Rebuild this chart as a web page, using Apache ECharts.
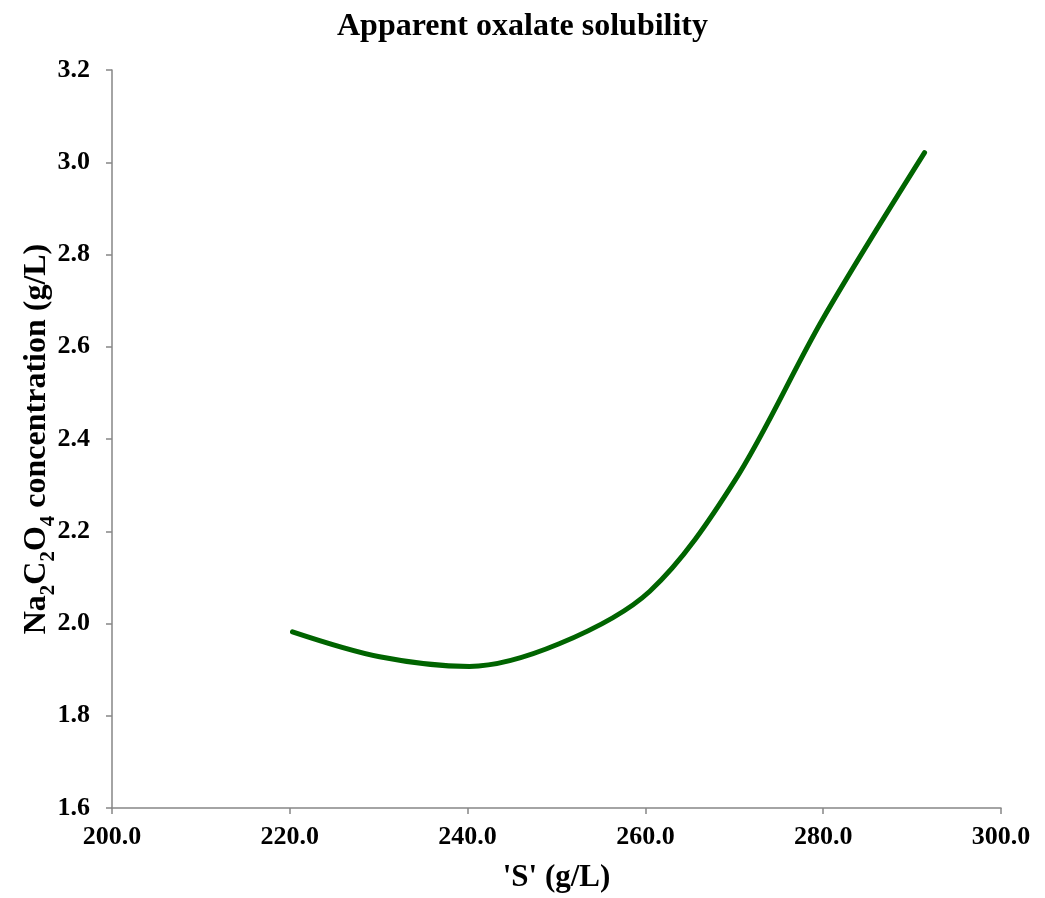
<!DOCTYPE html>
<html>
<head>
<meta charset="utf-8">
<script src="https://cdn.jsdelivr.net/npm/echarts@6/dist/echarts.min.js"></script>
<style>
  html, body { margin: 0; padding: 0; background: #fff; }
  #chart { width: 1045px; height: 898px; }
</style>
</head>
<body>
<div id="chart"></div>
<script>
// 数据：曲线点
var sValues = [220.3, 230.1, 240.2, 250.3, 260.5, 270.0, 280.0, 291.4];
var oxalateValues = [1.982, 1.928, 1.907, 1.956, 2.070, 2.308, 2.662, 3.021];

var font = '"Liberation Serif", "Times New Roman", serif';

var myChart = echarts.init(document.getElementById('chart'));

var option = {
    animation: false,
    backgroundColor: '#fff',
    title: {
        text: 'Apparent oxalate solubility',
        left: 'center',
        top: 6,
        textStyle: { fontFamily: font, fontWeight: 'bold', fontSize: 32, color: '#000' }
    },
    grid: { left: 112, right: 44, top: 70, bottom: 89 },
    xAxis: {
        type: 'value',
        min: 200, max: 300, interval: 20,
        name: "'S' (g/L)",
        nameLocation: 'middle',
        nameGap: 54,
        nameMoveOverlap: false,
        nameTextStyle: { fontFamily: font, fontWeight: 'bold', fontSize: 31, color: '#000' },
        axisLine: { lineStyle: { color: '#868686', width: 1.5 } },
        axisTick: { show: true, length: 6, inside: false, lineStyle: { color: '#868686', width: 1.5 } },
        splitLine: { show: false },
        axisLabel: {
            margin: 16,
            fontFamily: font, fontWeight: 'bold', fontSize: 26, color: '#000',
            formatter: function (v) { return v.toFixed(1); }
        }
    },
    yAxis: {
        type: 'value',
        min: 1.6, max: 3.2, interval: 0.2,
        name: '{n|Na}{s|2}{n|C}{s|2}{n|O}{s|4}{n| concentration (g/L)}',
        nameLocation: 'middle',
        nameGap: 53,
        nameMoveOverlap: false,
        nameTextStyle: {
            rich: {
                n: { fontFamily: font, fontWeight: 'bold', fontSize: 32, color: '#000', lineHeight: 44 },
                s: { fontFamily: font, fontWeight: 'bold', fontSize: 21, color: '#000', lineHeight: 22, verticalAlign: 'bottom' }
            }
        },
        axisLine: { show: true, lineStyle: { color: '#868686', width: 1.5 } },
        axisTick: { show: true, length: 6, inside: false, lineStyle: { color: '#868686', width: 1.5 } },
        splitLine: { show: false },
        axisLabel: {
            margin: 22,
            fontFamily: font, fontWeight: 'bold', fontSize: 26, color: '#000',
            formatter: function (v) { return v.toFixed(1); }
        }
    },
    series: [{
        type: 'line',
        data: sValues.map(function (x, i) { return [x, oxalateValues[i]]; }),
        smooth: 0.33,
        showSymbol: false,
        lineStyle: { color: '#006400', width: 5, cap: 'round' }
    }]
};

myChart.setOption(option);
</script>
</body>
</html>
